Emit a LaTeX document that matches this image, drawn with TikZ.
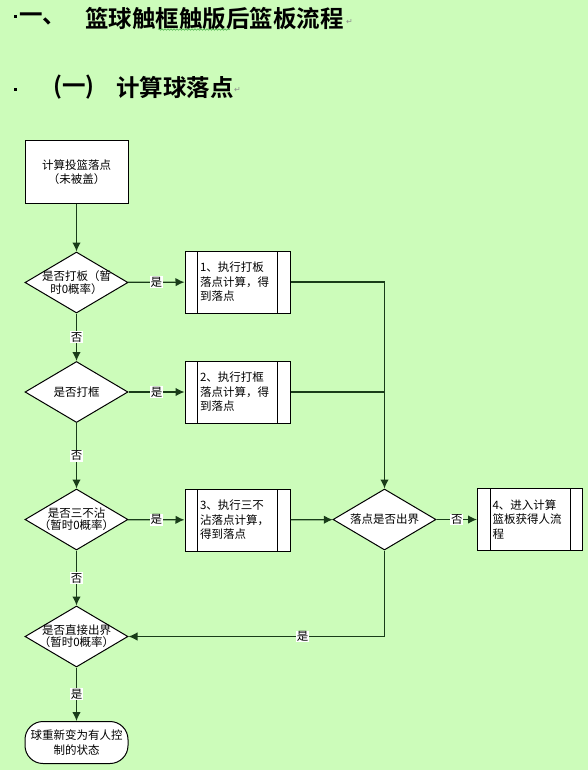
\documentclass[tikz,border=0pt]{standalone}
\usepackage{fontspec}
\setmainfont{Noto Sans CJK SC}[BoldFont={Noto Sans CJK SC Bold}]
\newfontfamily\markfont{DejaVu Sans}
\usetikzlibrary{shapes.geometric,arrows.meta,decorations.pathmorphing}

\definecolor{pagegreen}{RGB}{204,252,186}
\definecolor{flowline}{RGB}{25,60,25}
\definecolor{markgray}{RGB}{140,140,140}
\definecolor{spellgreen}{RGB}{60,170,60}

\tikzset{
  txt/.style={font=\fontsize{11.5}{14.5}\selectfont},
  headtxt/.style={font=\fontsize{23.5}{23.5}\selectfont\bfseries, anchor=west, inner sep=0pt},
  startbox/.style={draw=black, line width=1pt, fill=white, txt, align=center,
    minimum width=103pt, minimum height=62pt, inner sep=0pt},
  decision/.style={diamond, draw=black, line width=1pt, fill=white,
    minimum width=103pt, minimum height=61pt, inner sep=0pt},
  dtext/.style={font=\fontsize{11.5}{12.3}\selectfont, align=center, inner sep=0pt},
  procbox/.style={draw=black, line width=1pt, fill=white, txt, align=left,
    minimum width=105pt, minimum height=62pt, text width=75pt, inner sep=0pt,
    path picture={
      \draw[line width=1pt]
        ([xshift=12.5pt]path picture bounding box.north west) -- ([xshift=12.5pt]path picture bounding box.south west)
        ([xshift=-12.5pt]path picture bounding box.north east) -- ([xshift=-12.5pt]path picture bounding box.south east);}},
  endbox/.style={draw=black, line width=1pt, fill=white, txt, align=center,
    rounded corners=18pt, minimum width=103pt, minimum height=42pt, inner sep=1pt},
  flow/.style={draw=flowline, line width=1.3pt, -{Latex[length=9pt,width=8.5pt]}},
  plain/.style={draw=flowline, line width=1.3pt},
  lab/.style={fill=white, txt, inner sep=0.8pt},
}

\begin{document}
\begin{tikzpicture}[x=1pt, y=-1pt]

  % -- page --
  \fill[pagegreen] (0,0) rectangle (588,770);
  \useasboundingbox (0,0) rectangle (588,770);

  % -- headings --
  \fill (13.5,15) rectangle (17,18.5);
  \node[headtxt] (h1num) at (19,19) {一、};
  \node[headtxt] (h1) at (85,19) {篮球触框触版后篮板流程};
  \draw[spellgreen, line width=0.5pt, decorate,
    decoration={snake, amplitude=0.8pt, segment length=3pt}] (158,29.5) -- (230,29.5);
  \node[anchor=west, inner sep=0pt, markgray, font=\markfont\fontsize{8}{8}\selectfont] (h1mark) at (346,22) {↵};

  \fill (13.5,88) rectangle (17,91.5);
  \node[headtxt] (h2num) at (53,87) {(一)};
  \node[headtxt] (h2) at (116,87) {计算球落点};
  \node[anchor=west, inner sep=0pt, markgray, font=\markfont\fontsize{8}{8}\selectfont] (h2mark) at (234,90) {↵};

  % -- left column --
  \node[startbox] (start) at (76.5,172) {计算投篮落点\\（未被盖）};
  \node[decision, label={[dtext]center:是否打板（暂\\时0概率）}] (d1) at (76.5,282.5) {};
  \node[decision, label={[dtext]center:是否打框}] (d2) at (76.5,392) {};
  \node[decision, label={[dtext]center:是否三不沾\\（暂时0概率）}] (d3) at (76.5,519.5) {};
  \node[decision, label={[dtext]center:是否直接出界\\（暂时0概率）}] (d5) at (76.5,636.5) {};
  \node[endbox] (stop) at (76.5,742.5) {球重新变为有人控\\制的状态};

  % -- process boxes --
  \node[procbox] (p1) at (237.5,282) {1、执行打板\\落点计算，得\\到落点};
  \node[procbox] (p2) at (237.5,392) {2、执行打框\\落点计算，得\\到落点};
  \node[procbox] (p3) at (237.5,520) {3、执行三不\\沾落点计算，\\得到落点};

  % -- out of bounds check --
  \node[decision, label={[dtext]center:落点是否出界}] (d4) at (384.5,519.5) {};
  \node[procbox] (p4) at (530,519.5) {4、进入计算\\篮板获得人流\\程};

  % -- connectors --
  \draw[flow] (start) -- (d1);
  \draw[flow] (d1) -- node[lab] {是} (p1);
  \draw[flow] (d1) -- node[lab] {否} (d2);
  \draw[flow] (d2) -- node[lab] {是} (p2);
  \draw[flow] (d2) -- node[lab] {否} (d3);
  \draw[flow] (d3) -- node[lab] {是} (p3);
  \draw[flow] (d3) -- node[lab] {否} (d5);
  \draw[flow] (d5) -- node[lab] {是} (stop);
  \draw[flow] (p3) -- (d4);
  \draw[flow] (p1.east) -| (d4.north);
  \draw[plain] (p2.east) -- (p2.east -| d4.north);
  \draw[flow] (d4) -- node[lab] {否} (p4);
  \draw[flow] (d4.south) |- node[lab, pos=0.66] {是} (d5.east);

\end{tikzpicture}
\end{document}
